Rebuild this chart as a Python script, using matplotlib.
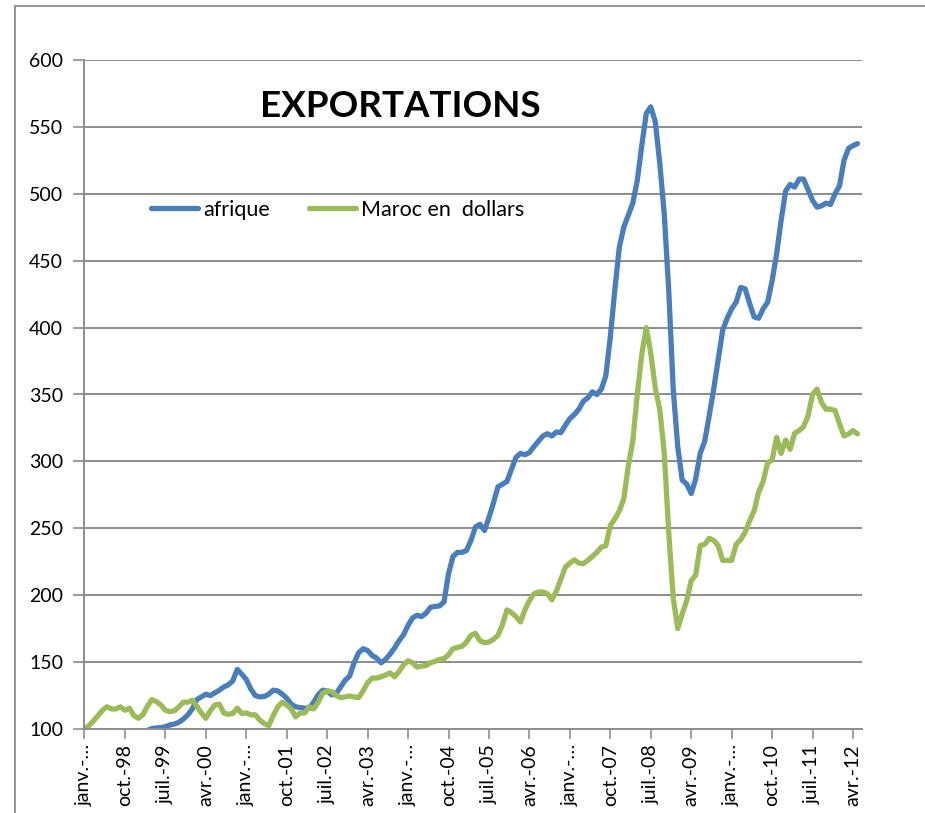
import numpy as np
import pandas as pd
import matplotlib
matplotlib.use("Agg")
import matplotlib.pyplot as plt
from matplotlib.lines import Line2D

# monthly index values, jan-98 .. may-12
afrique = [
    100, 99, 98, 97, 96, 96, 95, 95, 95, 95, 96, 96,            # 1998
    97, 98, 99, 100.3, 100.8, 101, 101.7, 103, 103.7, 105, 107.4, 110.6,  # 1999
    115, 122, 124, 126, 125, 127, 129, 131.4, 133, 136, 144.5, 141,       # 2000
    137, 130, 125, 124, 124.3, 126, 129, 128.5, 126, 123, 118.6, 116.6,   # 2001
    116, 115.6, 115.3, 120, 125.5, 129, 128.5, 125.5, 126.5, 131.4, 136.4, 139.6,  # 2002
    149.5, 157, 160, 158.7, 155, 153, 149.5, 152, 156, 160.6, 166, 170.5,  # 2003
    177.5, 183, 185, 184, 186.6, 191, 191.6, 192, 195, 216, 229, 232,      # 2004
    232, 233.4, 241, 251, 253, 248.3, 258, 269, 281, 283, 285, 294,        # 2005
    303, 306, 305, 306.6, 311, 315, 319, 320.7, 319, 322, 321.5, 327,      # 2006
    332, 335, 339, 345, 347.5, 352, 350, 354, 364, 393, 428, 460,          # 2007
    475, 484, 493, 510, 536, 560, 565, 554, 523, 485, 428, 354,            # 2008
    311, 286, 283, 276, 287, 306, 315, 334, 354, 376, 398, 407,            # 2009
    414, 419, 430, 429, 418, 408, 407, 414, 419, 435, 455, 480,            # 2010
    502, 507, 505, 511, 511, 503, 495, 490, 491, 493, 492, 500,            # 2011
    506, 525, 534, 536, 537.5,                                             # 2012
]
maroc = [
    100, 102.5, 106, 110, 114, 116.6, 115, 115, 116.6, 114, 115.6, 110,
    108, 110.6, 117, 122, 120.5, 118, 114, 113, 113.6, 116.6, 120, 120,
    121.5, 117, 112, 108, 113.6, 118, 118.5, 112, 111, 111.6, 115.6, 111.6,
    112, 110.6, 110.6, 106.7, 104, 102.5, 110, 116.6, 120, 118, 115, 109,
    112, 112, 116.6, 115, 120, 126.5, 128.5, 128, 125, 123.5, 124, 124.7,
    124, 123.5, 128.5, 134.6, 138, 138, 139, 140.3, 142, 139, 143, 148,
    151, 149.5, 146.3, 147, 147.5, 149.5, 150.5, 152, 152.5, 155.5, 160, 161,
    161.8, 165, 170, 171.5, 166, 164.5, 165, 167, 170, 178, 189, 187,
    184, 180, 189, 196, 201, 202.4, 202.4, 201, 196.6, 203, 212, 221,
    224, 226.4, 224, 223.5, 226, 229, 232, 236, 237, 252, 257, 263,
    272, 296.5, 315, 350, 380, 400, 381, 355, 339, 306.5, 247, 198,
    175, 186, 196, 211, 215, 237, 238, 242.5, 241, 237, 226, 226,
    226, 238, 241.5, 247, 255.6, 263, 277, 285, 299, 301, 318, 306,
    316, 309, 321, 323, 326, 334, 350, 354, 344, 339, 339, 338,
    328, 319, 320.5, 323, 320.5,
]
months = pd.date_range("1998-01-01", periods=len(afrique), freq="MS")

mois_fr = {1: "janv.", 4: "avr.", 7: "juil.", 10: "oct."}
tick_idx = list(range(0, len(months), 9))
tick_labels = []
for k in tick_idx:
    m = months[k]
    if m.month == 1:
        tick_labels.append("janv.-…")
    else:
        tick_labels.append(f"{mois_fr[m.month]}-{m.year % 100:02d}")

plt.rcParams['font.family'] = ['Lato', 'DejaVu Sans']

fig = plt.figure(figsize=(9.25, 8.13), dpi=100)
ax = fig.add_axes([84 / 925, 1 - 729 / 813, (862 - 84) / 925, (729 - 60) / 813])

# chart frame (left and top edges are the only ones in view)
fx, fy = 15.5 / 925, 1 - 6.5 / 813
fig.add_artist(Line2D([fx, fx], [0, fy], transform=fig.transFigure,
                      color="#8c8c8c", lw=1.3))
fig.add_artist(Line2D([fx, 1], [fy, fy], transform=fig.transFigure,
                      color="#8c8c8c", lw=1.3))

x = np.arange(len(afrique))
ax.plot(x, afrique, color="#4a7ebb", lw=3.8, solid_capstyle="round",
        solid_joinstyle="round", label="afrique")
ax.plot(x, maroc, color="#9bbb59", lw=3.8, solid_capstyle="round",
        solid_joinstyle="round", label="Maroc en  dollars")

ax.set_ylim(100, 600)
ax.set_xlim(-0.1, 173)
ax.set_yticks(np.arange(100, 601, 50))
ax.set_xticks(tick_idx)
ax.set_xticklabels(tick_labels, rotation=90, fontsize=14)
ax.tick_params(axis="y", labelsize=14, length=8, width=1.2, color="#8c8c8c", pad=7)
ax.tick_params(axis="x", length=7, width=1.2, color="#8c8c8c", pad=4)

ax.grid(axis="y", color="#8c8c8c", lw=1.4)
ax.set_axisbelow(True)
for s in ["top", "right"]:
    ax.spines[s].set_visible(False)
for s in ["left", "bottom"]:
    ax.spines[s].set_color("#8c8c8c")
    ax.spines[s].set_linewidth(1.4)

ax.text(0.406, 0.931, "EXPORTATIONS", transform=ax.transAxes, ha="center",
        va="center", fontsize=26.5, fontweight="bold")

ax.legend(loc="center", bbox_to_anchor=(0.326, 0.776), ncol=2, frameon=False,
          fontsize=15.5, handlelength=2.2, columnspacing=1.8, handletextpad=0.25)

fig.savefig("out.png", dpi=100)
